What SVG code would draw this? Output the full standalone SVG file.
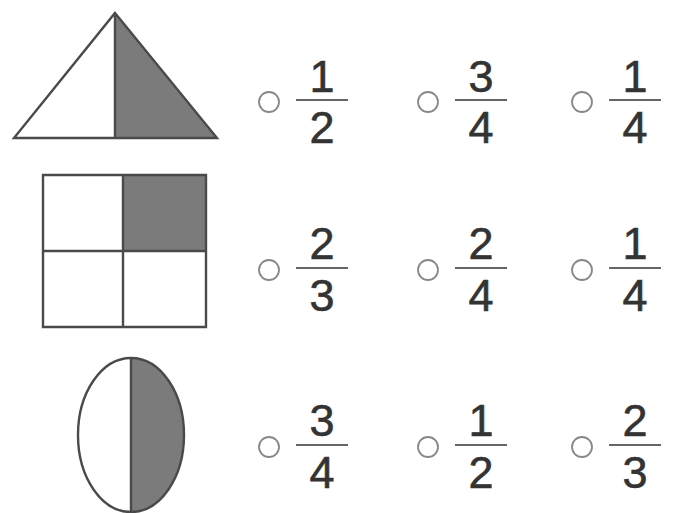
<svg xmlns="http://www.w3.org/2000/svg" width="673" height="513" viewBox="0 0 673 513">
<style>
.sh{stroke:#4a4a4a;stroke-width:2.4;stroke-linejoin:miter}
.w{fill:#fff}
.g{fill:#7b7b7b}
.opt{fill:none;stroke:#888;stroke-width:1.8}
.bar{stroke:#666;stroke-width:2}
.num{font-family:"Liberation Sans",Arial,sans-serif;font-size:45px;fill:#333;stroke:#333;stroke-width:0.6;text-anchor:middle}
</style>
<rect width="673" height="513" fill="#fff"/>
<g id="triangle">
<path class="g" d="M115 13 L217 138 L115 138 Z"/>
<path class="sh" fill="none" d="M115 13 L217 138 L14 138 Z M115 13 L115 138"/>
</g>
<g id="square">
<rect class="w" x="43" y="175" width="163" height="152"/>
<rect class="g" x="123" y="175" width="83" height="76"/>
<path class="sh" fill="none" d="M43 175 H206 V327 H43 Z M123 175 V327 M43 251 H206"/>
</g>
<g id="ellipse">
<ellipse class="w" cx="131" cy="435" rx="53" ry="77"/>
<path class="g" d="M131 358 A53 77 0 0 1 131 512 Z"/>
<ellipse class="sh" fill="none" cx="131" cy="435" rx="53" ry="77"/>
<path class="sh" d="M131 358 V512"/>
</g>
<g id="row1">
<circle class="opt" cx="269" cy="102" r="10"/>
<line class="bar" x1="296" y1="100" x2="348" y2="100"/>
<text class="num" x="322" y="92">1</text><text class="num" x="322" y="143">2</text>
<circle class="opt" cx="428" cy="102" r="10"/>
<line class="bar" x1="455" y1="100" x2="507" y2="100"/>
<text class="num" x="481" y="92">3</text><text class="num" x="481" y="143">4</text>
<circle class="opt" cx="582" cy="102" r="10"/>
<line class="bar" x1="609" y1="100" x2="661" y2="100"/>
<text class="num" x="635" y="92">1</text><text class="num" x="635" y="143">4</text>
</g>
<g id="row2">
<circle class="opt" cx="269" cy="270" r="10"/>
<line class="bar" x1="296" y1="268" x2="348" y2="268"/>
<text class="num" x="322" y="259">2</text><text class="num" x="322" y="311">3</text>
<circle class="opt" cx="428" cy="270" r="10"/>
<line class="bar" x1="455" y1="268" x2="507" y2="268"/>
<text class="num" x="481" y="259">2</text><text class="num" x="481" y="311">4</text>
<circle class="opt" cx="582" cy="270" r="10"/>
<line class="bar" x1="609" y1="268" x2="661" y2="268"/>
<text class="num" x="635" y="259">1</text><text class="num" x="635" y="311">4</text>
</g>
<g id="row3">
<circle class="opt" cx="269" cy="447" r="10"/>
<line class="bar" x1="296" y1="445" x2="348" y2="445"/>
<text class="num" x="322" y="436">3</text><text class="num" x="322" y="488">4</text>
<circle class="opt" cx="428" cy="447" r="10"/>
<line class="bar" x1="455" y1="445" x2="507" y2="445"/>
<text class="num" x="481" y="436">1</text><text class="num" x="481" y="488">2</text>
<circle class="opt" cx="582" cy="447" r="10"/>
<line class="bar" x1="609" y1="445" x2="661" y2="445"/>
<text class="num" x="635" y="436">2</text><text class="num" x="635" y="488">3</text>
</g>
</svg>
